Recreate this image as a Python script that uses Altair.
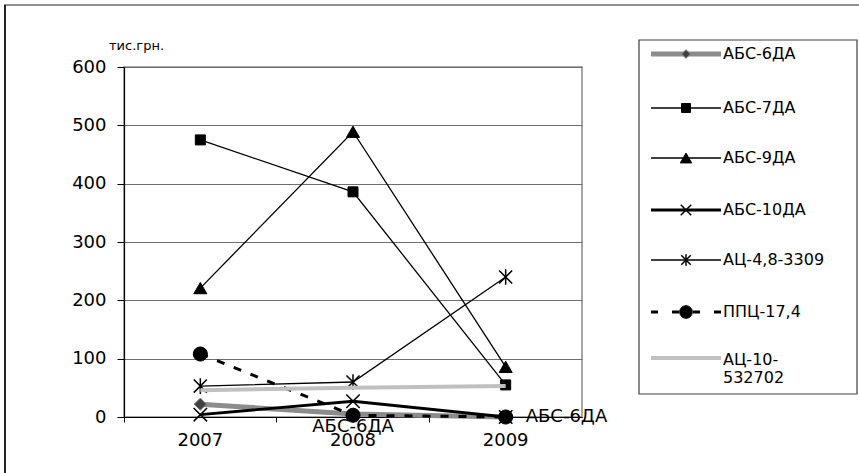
import altair as alt
import pandas as pd

years = ["2007", "2008", "2009"]
series_names = ["АБС-6ДА", "АБС-7ДА", "АБС-9ДА", "АБС-10ДА", "АЦ-4,8-3309", "ППЦ-17,4", "АЦ-10-532702"]
abs6 = [22, 5, 0]
abs7 = [475, 386, 55]
abs9 = [221, 489, 86]
abs10 = [4, 27, 0]
ac48 = [53, 60, 240]
ppc174 = [108, 3, 0]
ac10 = [46, 50, 53]
values = [abs6, abs7, abs9, abs10, ac48, ppc174, ac10]
label_years = ["2008", "2009"]
label_text = "АБС-6ДА"
y_ticks = [0, 100, 200, 300, 400, 500, 600]
y_title = "тис.грн."

rows = []
for name, vals in zip(series_names, values):
    for yr, v in zip(years, vals):
        rows.append({"series": name, "year": yr, "value": v})
df = pd.DataFrame(rows)

W, H = 458, 350
FONT = "DejaVu Sans"

CROSS = "M-1,-1L1,1M-1,1L1,-1"
STAR = "M-1,-1L1,1M-1,1L1,-1M0,-1.2L0,1.2"

styles = {
    "АБС-6ДА": dict(color="#8c8c8c", width=5, dash=None, shape="diamond", size=150, mfill="#404040", mstroke="#808080", filled=True, lsize=75),
    "АБС-7ДА": dict(color="black", width=1.3, dash=None, shape="square", size=100, mfill="black", mstroke="black", filled=True, lsize=80),
    "АБС-9ДА": dict(color="black", width=1.3, dash=None, shape="triangle-up", size=170, mfill="black", mstroke="black", filled=True, lsize=130),
    "АБС-10ДА": dict(color="black", width=2.8, dash=None, shape=CROSS, size=180, mfill=None, mstroke="black", filled=False, lsize=110),
    "АЦ-4,8-3309": dict(color="black", width=1.3, dash=None, shape=STAR, size=170, mfill=None, mstroke="black", filled=False, lsize=90),
    "ППЦ-17,4": dict(color="black", width=3, dash=[8, 10], shape="circle", size=200, mfill="black", mstroke="black", filled=True, lsize=160),
    "АЦ-10-532702": dict(color="#c0c0c0", width=4, dash=None, shape=None, size=0, mfill=None, mstroke=None, filled=True, lsize=0),
}

x_enc = alt.X("year:O", title=None,
              scale=alt.Scale(type="band", domain=years, paddingInner=0, paddingOuter=0),
              axis=alt.Axis(bandPosition=0, labelAngle=0, labelFontSize=18,
                            labelFont=FONT, labelColor="black", labelPadding=9, tickSize=5,
                            tickColor="black", domainColor="black", domainWidth=1.2, grid=False))
y_enc = alt.Y("value:Q", title=y_title,
              scale=alt.Scale(domain=[0, 600], nice=False),
              axis=alt.Axis(values=y_ticks, labelFontSize=18, labelFont=FONT, labelColor="black",
                            labelPadding=11, tickSize=7, tickColor="black", domainColor="black",
                            domainWidth=1.2, gridColor="#6e6e6e", gridWidth=1,
                            titleAngle=0, titleX=12, titleY=-22, titleAlign="center",
                            titleBaseline="middle", titleFont=FONT, titleFontSize=13,
                            titleFontWeight="normal", titleColor="black"))

layers = []
for name in series_names:
    st = styles[name]
    d = df[df.series == name]
    line_kw = dict(color=st["color"], strokeWidth=st["width"])
    if st["dash"]:
        line_kw["strokeDash"] = st["dash"]
    layers.append(alt.Chart(d).mark_line(**line_kw).encode(x=x_enc, y=y_enc))
    if st["shape"]:
        pkw = dict(shape=st["shape"], size=st["size"], opacity=1)
        if st["filled"]:
            pkw.update(filled=True, fill=st["mfill"], stroke=st["mstroke"], strokeWidth=1)
        else:
            pkw.update(filled=False, stroke=st["mstroke"], strokeWidth=1.5)
        layers.append(alt.Chart(d).mark_point(**pkw).encode(x=x_enc, y=y_enc))

# data labels for АБС-6ДА
lab = df[(df.series == "АБС-6ДА") & (df.year.isin(label_years))].copy()
lab["txt"] = label_text
layers.append(alt.Chart(lab[lab.year == "2008"]).mark_text(
    fontSize=18, font=FONT, color="black", dy=13, align="center", baseline="middle"
).encode(x=x_enc, y=y_enc, text="txt:N"))
layers.append(alt.Chart(lab[lab.year == "2009"]).mark_text(
    fontSize=18, font=FONT, color="black", dx=20, align="left", baseline="middle"
).encode(x=x_enc, y=y_enc, text="txt:N"))

# legend box and outer frame (layout only)
frame_top = alt.Chart(df.head(1)).mark_rule(color="#6a6a6a", strokeWidth=1.5).encode(
    x=alt.value(-120), x2=alt.value(740), y=alt.value(-62))
frame_left = alt.Chart(df.head(1)).mark_rule(color="#222222", strokeWidth=2).encode(
    x=alt.value(-119), y=alt.value(-62), y2=alt.value(410))
legbox = alt.Chart(df.head(1)).mark_rect(fillOpacity=0, stroke="#404040", strokeWidth=1.2).encode(
    x=alt.value(515), x2=alt.value(733), y=alt.value(-27), y2=alt.value(327))
layers += [frame_top, frame_left, legbox]

leg_y = [-13, 41, 91, 143, 193, 245, 291]
for name, ly in zip(series_names, leg_y):
    st = styles[name]
    rkw = dict(color=st["color"], strokeWidth=st["width"])
    if st["dash"]:
        rkw["strokeDash"] = [7, 14]
        rkw["strokeDashOffset"] = 0
    layers.append(alt.Chart(df.head(1)).mark_rule(**rkw).encode(
        x=alt.value(527), x2=alt.value(597), y=alt.value(ly)))
    if st["shape"]:
        pkw = dict(shape=st["shape"], size=st["lsize"], opacity=1)
        if st["filled"]:
            pkw.update(filled=True, fill=st["mfill"], stroke=st["mstroke"], strokeWidth=1)
        else:
            pkw.update(filled=False, stroke=st["mstroke"], strokeWidth=1.5)
        layers.append(alt.Chart(df.head(1)).mark_point(**pkw).encode(
            x=alt.value(562), y=alt.value(ly)))
    txt = name if name != "АЦ-10-532702" else ["АЦ-10-", "532702"]
    layers.append(alt.Chart(df.head(1)).mark_text(
        text=txt, fontSize=16, font=FONT, color="black", align="left",
        baseline="middle" if name != "АЦ-10-532702" else "top", lineHeight=18
    ).encode(x=alt.value(599), y=alt.value(ly if name != "АЦ-10-532702" else ly - 6)))

chart = alt.layer(*layers).properties(
    width=W, height=H,
    autosize=alt.AutoSizeParams(type="none"),
    padding={"left": 124, "top": 67, "right": 277, "bottom": 56},
    background="white",
).configure_view(stroke="#8a8a8a", strokeWidth=1.5)

chart.save("out.html", embed_options={"renderer": "svg", "actions": False})
